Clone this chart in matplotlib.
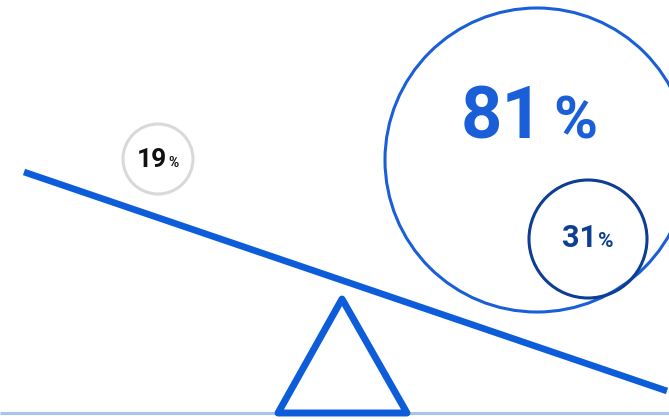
import matplotlib.pyplot as plt
from matplotlib.patches import Circle, Polygon

# values shown in the bubbles
labels = ['19', '81', '31']
values = [19, 81, 31]
text_colors = ['#111111', '#1a5fd8', '#0e3e93']
ring_colors = ['#d9d9d9', '#1a5fd8', '#0e3e93']

# bubble layout (pixel space, y down)
centers = [(158, 159), (537, 160), (588, 239)]
radii = [35, 152, 59]
num_sizes = [19, 52, 22]
pct_sizes = [10, 43, 15]
baselines = [167, 138, 247]
splits = [167, 544, 597]
gaps = [1, 9, 1]

plt.rcParams['font.family'] = ['Roboto', 'DejaVu Sans']

fig = plt.figure(figsize=(6.69, 4.19), dpi=100)
ax = fig.add_axes([0, 0, 1, 1])
ax.set_xlim(0, 669)
ax.set_ylim(419, 0)
ax.axis('off')

# ground
ax.plot([0, 669], [413, 413], color='#a8c3f0', lw=2.2, solid_capstyle='butt', zorder=1)

# fulcrum
tri = Polygon([(342, 299), (278, 413), (407, 413)], closed=True, fill=False,
              edgecolor='#0d5ddb', lw=5, joinstyle='round', zorder=3)
ax.add_patch(tri)

# beam
ax.plot([24, 667], [172, 391], color='#0d5ddb', lw=4.8, solid_capstyle='butt', zorder=2)

# bubbles
for i in range(len(values)):
    ax.add_patch(Circle(centers[i], radii[i], fill=False, edgecolor=ring_colors[i],
                        lw=2.2, zorder=4))
    ax.text(splits[i], baselines[i], labels[i], ha='right', va='baseline',
            fontsize=num_sizes[i], fontweight='bold', color=text_colors[i], zorder=5)
    ax.text(splits[i] + gaps[i], baselines[i], '%', ha='left', va='baseline',
            fontsize=pct_sizes[i], fontweight='bold', color=text_colors[i], zorder=5)

fig.savefig('out.png', dpi=100)
